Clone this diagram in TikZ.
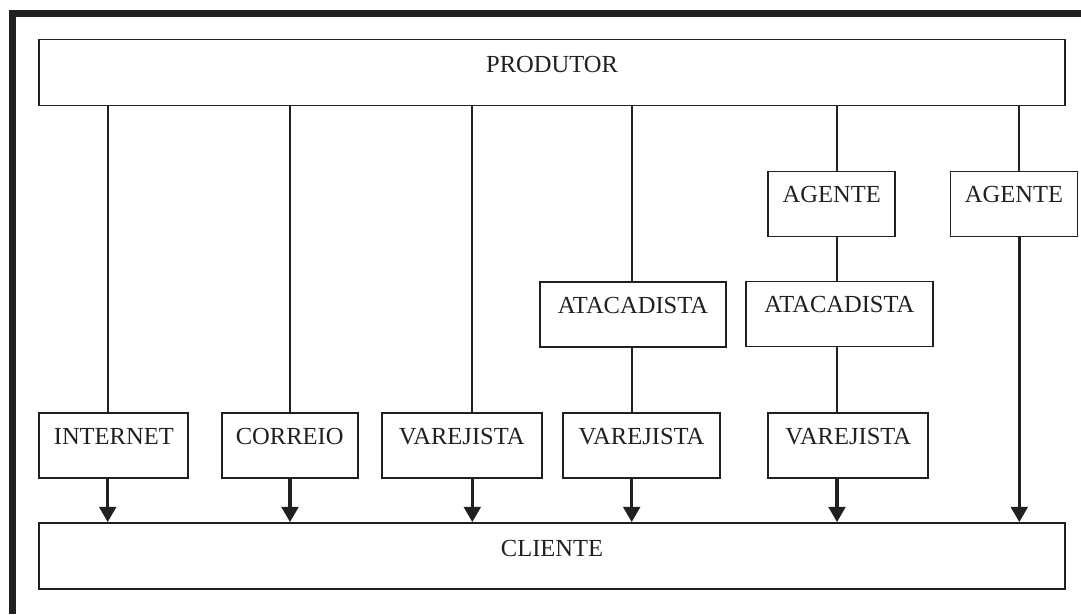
\documentclass[tikz,border=0pt]{standalone}
\usepackage{fontspec}
\setmainfont{Liberation Serif}
\usetikzlibrary{arrows.meta}
\usetikzlibrary{positioning}
\definecolor{ink}{RGB}{35,31,32}

\begin{document}
\begin{tikzpicture}[x=0.75pt,y=0.75pt,yscale=-1,xscale=1,color=ink,
  box/.style={draw,line width=1.3pt,inner sep=0pt,minimum height=48.75pt,
    text height=23.25pt,text depth=25.5pt,font=\fontsize{18.4}{22}\selectfont},
  wide/.style={box,minimum height=49.5pt,text height=25pt,text depth=24.5pt}]
  \useasboundingbox (0,0) rectangle (1081,614);
  \tikzstyle{link} = [line width=1.3pt]
  \tikzstyle{arrow} = [line width=2.5pt,-{Triangle[length=11.5pt,width=12.5pt]}]
  %Draw the frame on top and left
  \draw [line width=5.25pt,line join=miter] (12.5,614) -- (12.5,13.5) -- (1081,13.5);
  %Top and bottom boxes
  \node [wide,minimum width=769.5pt] (prod) at (552,72.5) {PRODUTOR};
  \node [wide,minimum width=769.5pt] (cli) at (552,556) {CLIENTE};
  %Agents
  \node [box,minimum width=95.25pt] (ag1) at (831.7,204) {AGENTE};
  \node [box,minimum width=95.25pt] (ag2) at (1014,204) {AGENTE};
  %Wholesalers
  \node [box,minimum width=139.5pt] (ata1) at (633,314.5) {ATACADISTA};
  \node [box,minimum width=140.25pt] (ata2) at (839.3,314) {ATACADISTA};
  %Last row
  \node [box,minimum width=111.75pt] (inter) at (113.8,445.5) {INTERNET};
  \node [box,minimum width=102pt] (corr) at (289.7,445.5) {CORREIO};
  \node [box,minimum width=120pt] (var1) at (461.7,445.5) {VAREJISTA};
  \node [box,minimum width=117.75pt] (var2) at (641.5,445.5) {VAREJISTA};
  \node [box,minimum width=120pt] (var3) at (848.3,445.5) {VAREJISTA};
  % Channel positions
  \coordinate (c1) at (107.7,0);
  \coordinate (c2) at (290,0);
  \coordinate (c3) at (472.3,0);
  \coordinate (c4) at (631.7,0);
  \coordinate (c5) at (837,0);
  \coordinate (c6) at (1019.3,0);
  % Draw the links
  \draw [link] (prod.south -| c1) -- (inter.north -| c1);
  \draw [link] (prod.south -| c2) -- (corr.north -| c2);
  \draw [link] (prod.south -| c3) -- (var1.north -| c3);
  \draw [link] (prod.south -| c4) -- (ata1.north -| c4);
  \draw [link] (ata1.south -| c4) -- (var2.north -| c4);
  \draw [link] (prod.south -| c5) -- (ag1.north -| c5);
  \draw [link] (ag1.south -| c5) -- (ata2.north -| c5);
  \draw [link] (ata2.south -| c5) -- (var3.north -| c5);
  \draw [link] (prod.south -| c6) -- (ag2.north -| c6);
  % Draw the arrows
  \draw [arrow] (inter.south -| c1) -- (cli.north -| c1);
  \draw [arrow] (corr.south -| c2) -- (cli.north -| c2);
  \draw [arrow] (var1.south -| c3) -- (cli.north -| c3);
  \draw [arrow] (var2.south -| c4) -- (cli.north -| c4);
  \draw [arrow] (var3.south -| c5) -- (cli.north -| c5);
  \draw [arrow] (ag2.south -| c6) -- (cli.north -| c6);
\end{tikzpicture}
\end{document}
